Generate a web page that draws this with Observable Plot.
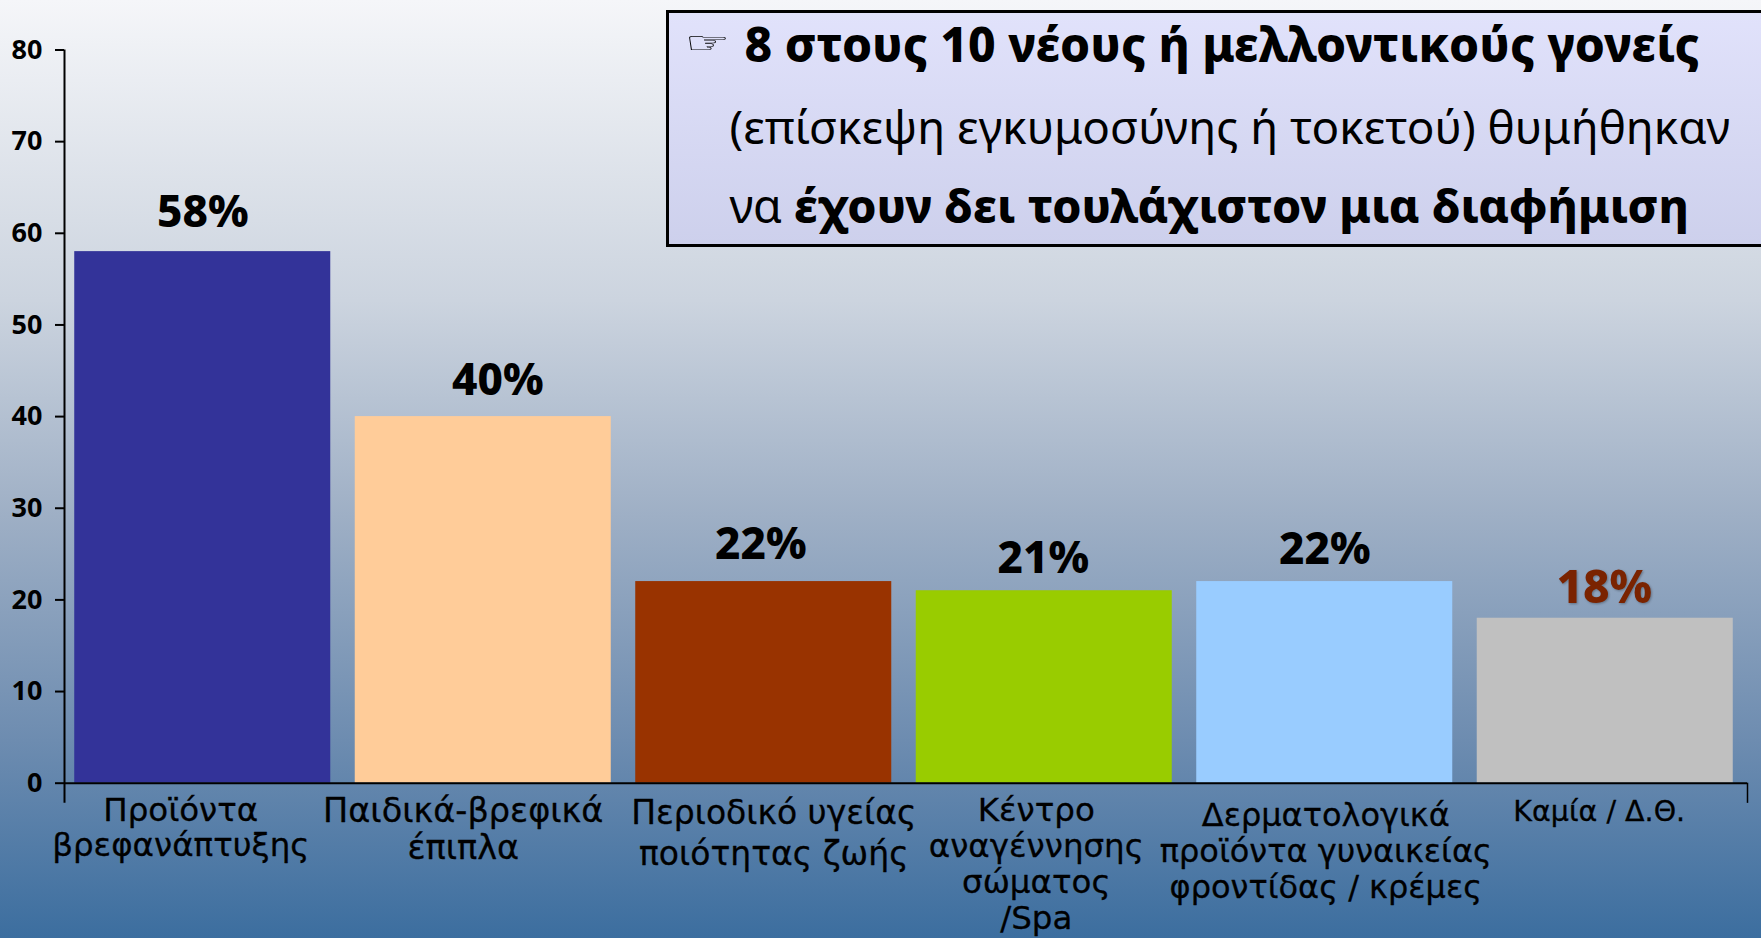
<!DOCTYPE html>
<html lang="el">
<head>
<meta charset="utf-8">
<script src="https://cdn.jsdelivr.net/npm/d3@7"></script>
<script src="https://cdn.jsdelivr.net/npm/@observablehq/plot@0.6"></script>
<style>
html,body{margin:0;padding:0;width:1761px;height:938px;overflow:hidden}
body{position:relative;background:linear-gradient(180deg,#f5f6f9 0%,#ccd4df 32%,#9eafc5 55%,#6d8cb0 79%,#3c6e9f 100%)}
#chart svg{display:block;background:transparent!important}
.shadow{filter:drop-shadow(1.5px 1.5px 1px rgba(0,0,0,.3))}
#note{position:absolute;left:665.5px;top:10px;width:1096px;height:237px;box-sizing:border-box;border:3px solid #000;border-right:none;
background:linear-gradient(180deg,#e1e2fb 0%,#cdd0ec 100%);font-family:"Noto Sans",sans-serif;color:#000}
#note div{position:absolute;white-space:nowrap}
#note b{font-weight:800}
#hand{font-family:"DejaVu Sans";transform:scaleX(1.7);transform-origin:left center;font-size:30px;font-weight:700}
</style>
</head>
<body>
<div id="chart"></div>
<div id="note">
<div id="hand" style="left:16px;top:6px;line-height:48px">☞</div>
<div style="left:76px;top:0px;line-height:62px;font-size:47.9px"><b>8 στους 10 νέους ή μελλοντικούς γονείς</b></div>
<div style="left:61px;top:82px;line-height:62px;font-size:45.8px">(επίσκεψη εγκυμοσύνης ή τοκετού) θυμήθηκαν</div>
<div style="left:61px;top:161px;line-height:62px;font-size:46.5px">να <b>έχουν δει τουλάχιστον μια διαφήμιση</b></div>
</div>
<script>
const categories = ["Προϊόντα βρεφανάπτυξης","Παιδικά-βρεφικά έπιπλα","Περιοδικό υγείας ποιότητας ζωής","Κέντρο αναγέννησης σώματος /Spa","Δερματολογικά προϊόντα γυναικείας φροντίδας / κρέμες","Καμία / Δ.Θ."];
const values = [58,40,22,21,22,18];
const valueLabels = ["58%","40%","22%","21%","22%","18%"];
const tickLabels = ["Προϊόντα\nβρεφανάπτυξης","Παιδικά-βρεφικά\nέπιπλα","Περιοδικό υγείας\nποιότητας ζωής","Κέντρο\nαναγέννησης\nσώματος\n/Spa","Δερματολογικά\nπροϊόντα γυναικείας\nφροντίδας / κρέμες","Καμία / Δ.Θ."];
const barColors = ["#333399","#FFCC99","#993300","#99CC00","#99CCFF","#C0C0C0"];
const yTicks = [0,10,20,30,40,50,60,70,80];

// layout nudges
const W = 1761, H = 938;
const labelDx = [-24,-22,8,-10,-1,-8];
const labelBaseline = [819,819,818,818,823,815];
const labelGap = [35,37,41,36,36,36];
const labelSize = [32.5,33.5,33,32.5,32,28.5];
const valueDx = [-2,12.6,-5,-3,-2,-3];
const valueDy = [-38.6,-36,-37,-31.4,-31.4,-30];
const valueSize = [44,44,44,44,44,46];
const y0px = 782.7, bandW = (W-64-14)/6;
const font = '"Noto Sans",sans-serif';
const labelFont = '"DejaVu Sans",sans-serif';

const rows = categories.map((c,i)=>({c,v:values[i],t:valueLabels[i],l:tickLabels[i],col:barColors[i]}));

const chart = Plot.plot({
  width:W, height:H, marginLeft:64, marginRight:14, marginTop:49.5, marginBottom:H-y0px,
  style:{background:"transparent",overflow:"visible"},
  x:{domain:categories,paddingInner:0.0873,paddingOuter:0.04365,round:false,axis:null},
  y:{domain:[0,80],axis:null},
  marks:[
    Plot.barY(rows,{x:"c",y:"v",fill:"col",dx:-2}),
    Plot.axisY({ticks:yTicks,tickSize:9,tickPadding:13,label:null,fontSize:27,fontWeight:700,fontFamily:font,stroke:"#000",strokeWidth:2,fill:"#000"}),
    Plot.ruleX([categories[0]],{y1:-2.2,y2:80,dx:-bandW/2,stroke:"#000",strokeWidth:2}),
    Plot.ruleX([categories[5]],{y1:-2.2,y2:0,dx:bandW/2,stroke:"#000",strokeWidth:1.5}),
    Plot.ruleY([0],{stroke:"#000",strokeWidth:2}),
    ...rows.map((r,i)=>Plot.text([r],{x:"c",y:"v",text:"t",dx:valueDx[i],dy:valueDy[i],fontFamily:font,fontWeight:800,fontSize:valueSize[i],
      fill:i===5?"#7a2300":"#000",className:i===5?"shadow":undefined})),
    ...rows.map((r,i)=>Plot.text([r],{x:"c",y:()=>0,text:"l",lineAnchor:"top",textAnchor:"middle",lineHeight:labelGap[i]/labelSize[i],
      dx:labelDx[i],dy:labelBaseline[i]-y0px-0.71*labelSize[i],fontFamily:labelFont,fontSize:labelSize[i],fill:"#000",stroke:"#000",strokeWidth:0.3}))
  ]
});
document.getElementById("chart").append(chart);
</script>
</body>
</html>
